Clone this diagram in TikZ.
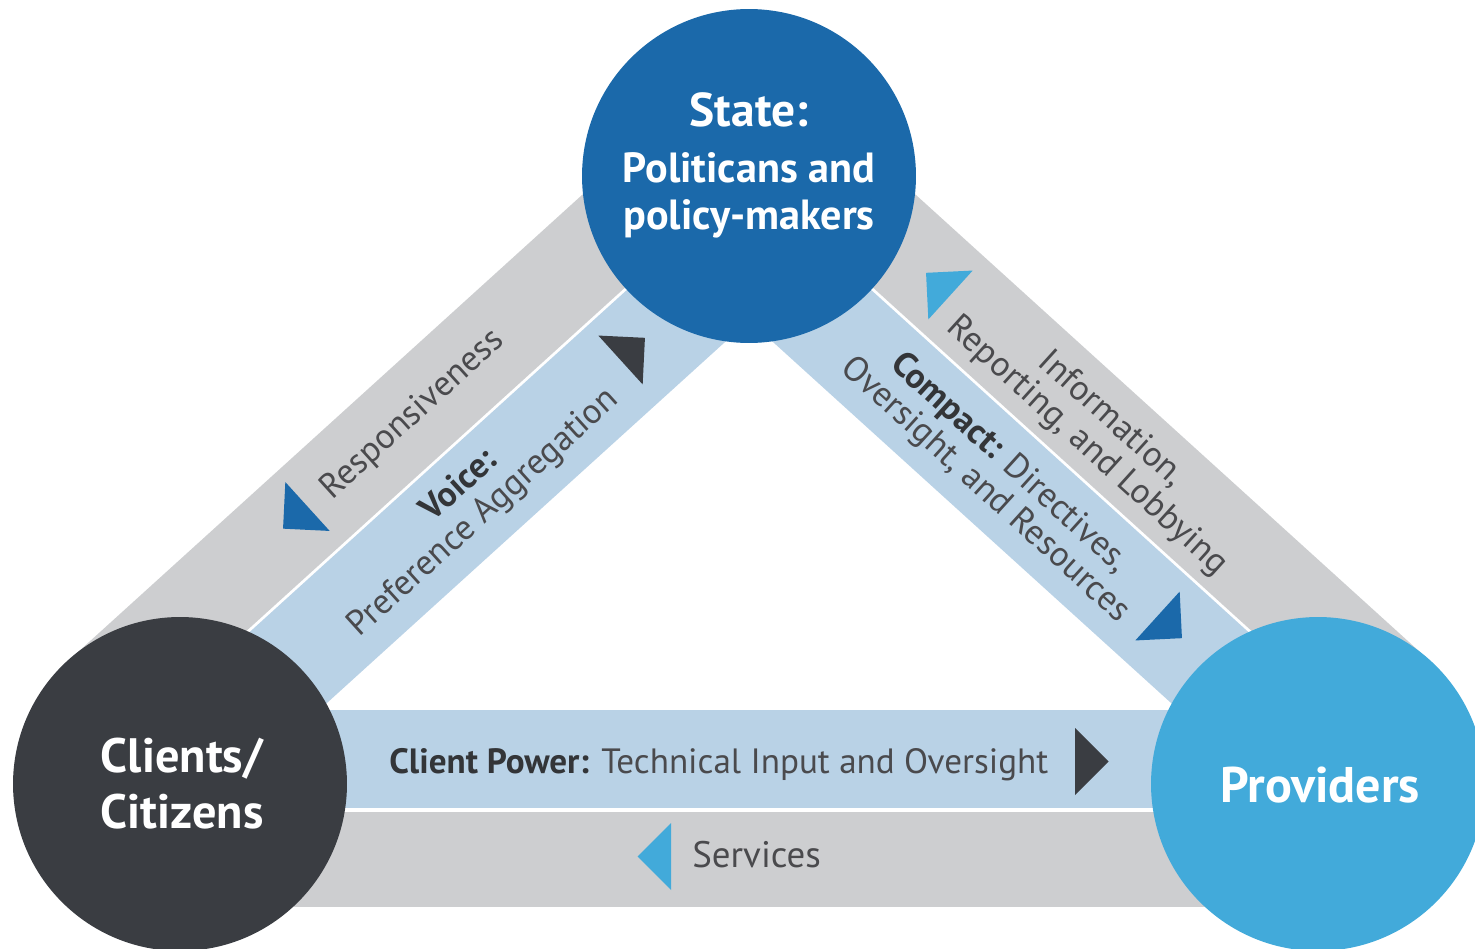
\documentclass[tikz,border=0pt]{standalone}
\usepackage{fontspec}
\setmainfont{PT Sans}
\definecolor{stateblue}{HTML}{1B69AA}
\definecolor{clientdark}{HTML}{3A3D42}
\definecolor{provblue}{HTML}{42AADA}
\definecolor{bandgray}{HTML}{CDCED0}
\definecolor{bandblue}{HTML}{B9D2E6}
\definecolor{txtgray}{HTML}{4A4A4D}
\definecolor{txtdark}{HTML}{333538}
\begin{document}
\begin{tikzpicture}[x=0.02cm,y=0.02cm,
  hub/.style={circle, minimum size=6.68cm, inner sep=0pt},
  hubtext/.style={text=white, inner sep=0pt, font=\bfseries\fontsize{27.5}{31}\selectfont},
  subtext/.style={text=white, inner sep=0pt, font=\bfseries\fontsize{24}{27}\selectfont},
  bandtext/.style={text=txtgray, inner sep=0pt, align=center, font=\fontsize{20}{20.5}\selectfont}
]
\useasboundingbox (0,0) rectangle (1475,948);
\clip (0,0) rectangle (1475,948);

% bottom band
\fill[bandgray] (180,41) rectangle (1318,136);
\fill[bandblue] (180,140) rectangle (1318,238);

% left band
\begin{scope}[shift={(180,164)},rotate=42.2]
  \fill[bandgray] (0,68.8) rectangle (830,166.3);
  \fill[bandblue] (0,-38.7) rectangle (830,65.8);
\end{scope}
% right band (mirror)
\begin{scope}[shift={(1498,0)},xscale=-1]
  \begin{scope}[shift={(180,164)},rotate=42.2]
    \fill[bandgray] (0,68.8) rectangle (830,166.3);
    \fill[bandblue] (0,-38.7) rectangle (830,65.8);
  \end{scope}
\end{scope}

% arrow triangles
\fill[stateblue, shift={(307.5,441.5)}, rotate=222.2] (0,-33) -- (33,0) -- (0,33) -- cycle;
\fill[clientdark, shift={(620.5,588)}, rotate=42.2] (0,-33) -- (33,0) -- (0,33) -- cycle;
\fill[provblue, shift={(950.5,653)}, rotate=137.8] (0,-33) -- (33,0) -- (0,33) -- cycle;
\fill[stateblue, shift={(1157.5,332)}, rotate=-42.2] (0,-33) -- (33,0) -- (0,33) -- cycle;
\fill[clientdark, shift={(1075,186.5)}, rotate=0] (0,-33.5) -- (33.5,0) -- (0,33.5) -- cycle;
\fill[provblue, shift={(671,91.5)}, rotate=180] (0,-33.5) -- (33.5,0) -- (0,33.5) -- cycle;

% band labels
\node[bandtext, rotate=42.2] (resp) at (413,533) {Responsiveness};
\node[bandtext, rotate=42.2] (voice) at (472,448) {{\color{txtdark}\bfseries Voice:}\\Preference Aggregation};
\node[bandtext, rotate=-42.2] (info) at (1099,515) {Information,\\Reporting, and Lobbying};
\node[bandtext, rotate=-42.2] (compact) at (997,471) {{\color{txtdark}\bfseries Compact:} Directives,\\Oversight, and Resources};
\node[bandtext, anchor=base west] (cpower) at (389,175) {{\color{txtdark}\bfseries Client Power:} Technical Input and Oversight};
\node[bandtext, anchor=base west, font=\fontsize{21}{22}\selectfont] (services) at (692,81) {Services};

% hubs
\node[hub, fill=stateblue] (state) at (749,772) {};
\node[hub, fill=clientdark] (clients) at (180,164) {};
\node[hub, fill=provblue] (providers) at (1318,164) {};

\node[hubtext, anchor=base, font=\bfseries\fontsize{27}{31}\selectfont] (stateA) at (749,821) {State:};
\node[subtext, anchor=base] (stateB) at (749,765) {Politicans and};
\node[subtext, anchor=base] (stateC) at (749,718) {policy-makers};
\node[hubtext, anchor=base] (clientsA) at (182,176) {Clients/};
\node[hubtext, anchor=base] (clientsB) at (182,120) {Citizens};
\node[hubtext, anchor=base, font=\bfseries\fontsize{28.5}{32}\selectfont] (provA) at (1320,146) {Providers};
\end{tikzpicture}
\end{document}
